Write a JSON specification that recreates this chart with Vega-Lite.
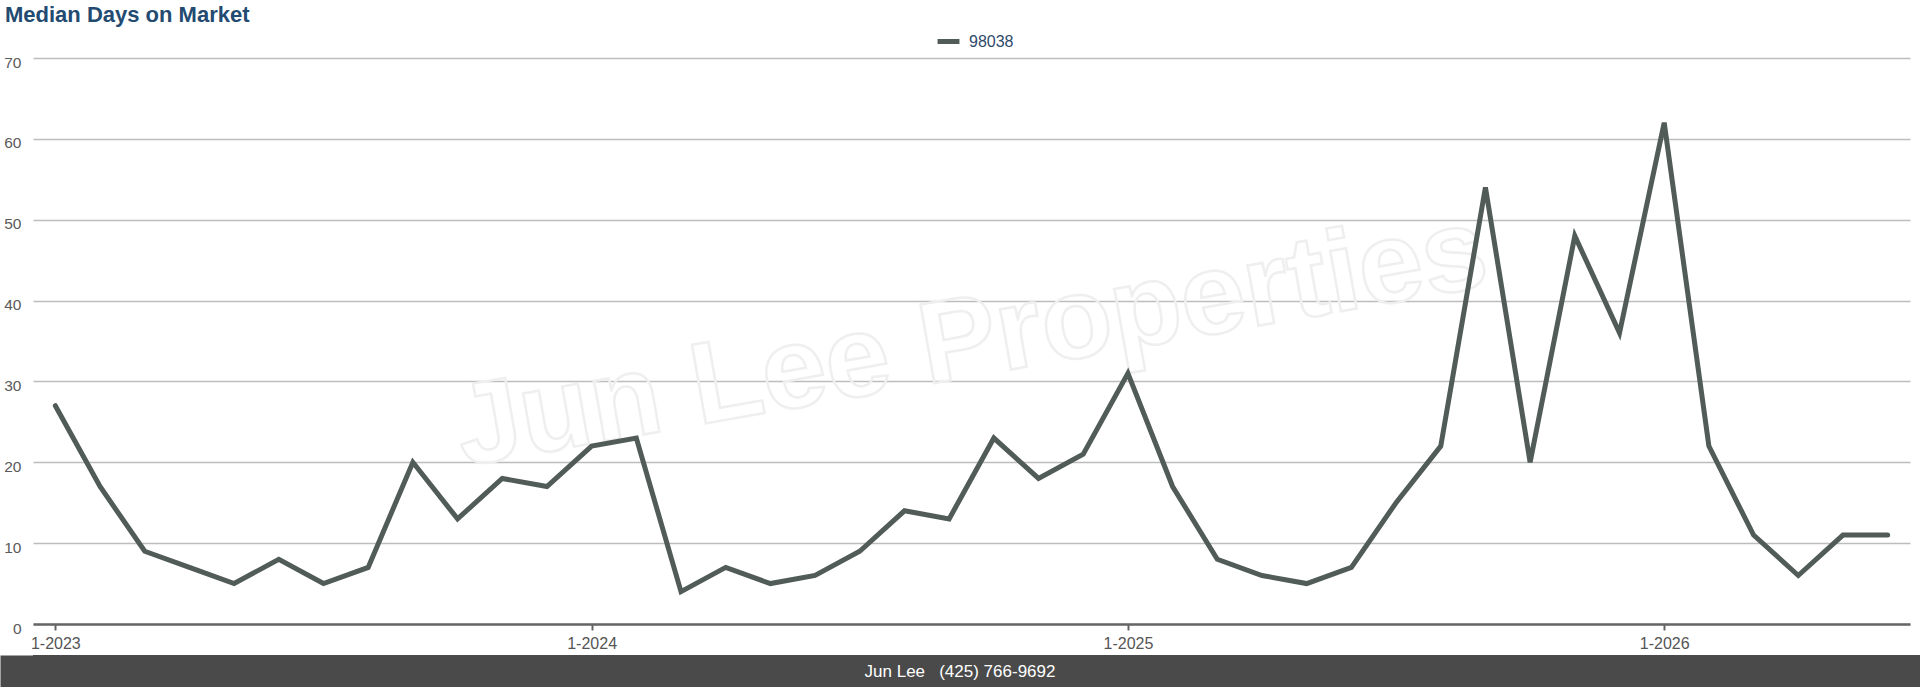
{
  "$schema": "https://vega.github.io/schema/vega-lite/v6.json",
  "description": "Median days on market for zip 98038, monthly, 1-2023 to 6-2026.",
  "padding": {"left": 0, "top": 4, "right": 0, "bottom": 0},
  "spacing": 0,
  "title": {
    "text": "Median Days on Market",
    "anchor": "start",
    "dx": 5,
    "offset": 1,
    "font": "Liberation Sans",
    "fontSize": 22,
    "fontWeight": "bold",
    "color": "#234a70"
  },
  "config": {
    "view": {"stroke": null},
    "font": "Liberation Sans"
  },
  "vconcat": [
    {
      "width": 1877,
      "height": 566,
      "layer": [
        {
          "data": {"values": [{"w": "Jun Lee Properties"}]},
          "mark": {
            "type": "text",
            "angle": -10,
            "fontSize": 116,
            "fontWeight": "bold",
            "font": "Liberation Sans",
            "fillOpacity": 0,
            "stroke": "#efefef",
            "strokeWidth": 2.5
          },
          "encoding": {"text": {"field": "w"}}
        },
        {
          "data": {
            "values": [
              {"month": "1-2023", "zip": "98038", "days": 27},
              {"month": "2-2023", "zip": "98038", "days": 17},
              {"month": "3-2023", "zip": "98038", "days": 9},
              {"month": "4-2023", "zip": "98038", "days": 7},
              {"month": "5-2023", "zip": "98038", "days": 5},
              {"month": "6-2023", "zip": "98038", "days": 8},
              {"month": "7-2023", "zip": "98038", "days": 5},
              {"month": "8-2023", "zip": "98038", "days": 7},
              {"month": "9-2023", "zip": "98038", "days": 20},
              {"month": "10-2023", "zip": "98038", "days": 13},
              {"month": "11-2023", "zip": "98038", "days": 18},
              {"month": "12-2023", "zip": "98038", "days": 17},
              {"month": "1-2024", "zip": "98038", "days": 22},
              {"month": "2-2024", "zip": "98038", "days": 23},
              {"month": "3-2024", "zip": "98038", "days": 4},
              {"month": "4-2024", "zip": "98038", "days": 7},
              {"month": "5-2024", "zip": "98038", "days": 5},
              {"month": "6-2024", "zip": "98038", "days": 6},
              {"month": "7-2024", "zip": "98038", "days": 9},
              {"month": "8-2024", "zip": "98038", "days": 14},
              {"month": "9-2024", "zip": "98038", "days": 13},
              {"month": "10-2024", "zip": "98038", "days": 23},
              {"month": "11-2024", "zip": "98038", "days": 18},
              {"month": "12-2024", "zip": "98038", "days": 21},
              {"month": "1-2025", "zip": "98038", "days": 31},
              {"month": "2-2025", "zip": "98038", "days": 17},
              {"month": "3-2025", "zip": "98038", "days": 8},
              {"month": "4-2025", "zip": "98038", "days": 6},
              {"month": "5-2025", "zip": "98038", "days": 5},
              {"month": "6-2025", "zip": "98038", "days": 7},
              {"month": "7-2025", "zip": "98038", "days": 15},
              {"month": "8-2025", "zip": "98038", "days": 22},
              {"month": "9-2025", "zip": "98038", "days": 54},
              {"month": "10-2025", "zip": "98038", "days": 20},
              {"month": "11-2025", "zip": "98038", "days": 48},
              {"month": "12-2025", "zip": "98038", "days": 36},
              {"month": "1-2026", "zip": "98038", "days": 62},
              {"month": "2-2026", "zip": "98038", "days": 22},
              {"month": "3-2026", "zip": "98038", "days": 11},
              {"month": "4-2026", "zip": "98038", "days": 6},
              {"month": "5-2026", "zip": "98038", "days": 11},
              {"month": "6-2026", "zip": "98038", "days": 11}
            ]
          },
          "mark": {"type": "line", "strokeWidth": 5, "strokeCap": "round"},
          "encoding": {
            "x": {
              "field": "month",
              "type": "ordinal",
              "sort": null,
              "scale": {"type": "point", "padding": 0.5},
              "axis": {
                "title": null,
                "values": ["1-2023", "1-2024", "1-2025", "1-2026"],
                "labelAngle": 0,
                "labelFontSize": 16,
                "labelColor": "#555555",
                "labelPadding": 5,
                "domainColor": "#666666",
                "domainWidth": 2.5,
                "tickColor": "#666666",
                "tickWidth": 2,
                "tickSize": 6,
                "grid": false,
                "minExtent": 31,
                "maxExtent": 31
              }
            },
            "y": {
              "field": "days",
              "type": "quantitative",
              "scale": {"domain": [0, 70], "nice": false},
              "axis": {
                "title": null,
                "values": [0, 10, 20, 30, 40, 50, 60, 70],
                "domain": false,
                "ticks": false,
                "labelFontSize": 15.5,
                "labelColor": "#5a5a5a",
                "labelPadding": 12,
                "labelOffset": 4,
                "gridColor": "#bdbdbd",
                "gridWidth": 1.5,
                "minExtent": 33,
                "maxExtent": 33
              }
            },
            "color": {
              "field": "zip",
              "type": "nominal",
              "scale": {"range": ["#515b58"]},
              "legend": {
                "title": null,
                "orient": "none",
                "legendX": 902,
                "legendY": -30,
                "padding": 0,
                "symbolType": "stroke",
                "symbolSize": 480,
                "symbolStrokeWidth": 5,
                "labelFontSize": 16,
                "labelColor": "#2e4a6b",
                "labelOffset": 7
              }
            }
          }
        }
      ]
    },
    {
      "width": 1887,
      "height": 33,
      "view": {"fill": "#4a4a4a", "stroke": null},
      "data": {"values": [{"label": "Jun Lee\u00a0\u00a0\u00a0(425) 766-9692"}]},
      "mark": {"type": "text", "color": "#ffffff", "fontSize": 17, "font": "Liberation Sans", "dx": -16.5},
      "encoding": {
        "text": {"field": "label"},
        "y": {
          "field": "label",
          "type": "nominal",
          "axis": {
            "title": null,
            "labels": false,
            "ticks": false,
            "domain": true,
            "domainColor": "#4a4a4a",
            "domainWidth": 33,
            "offset": 16.5,
            "minExtent": 16.5,
            "maxExtent": 16.5
          }
        }
      }
    }
  ]
}
